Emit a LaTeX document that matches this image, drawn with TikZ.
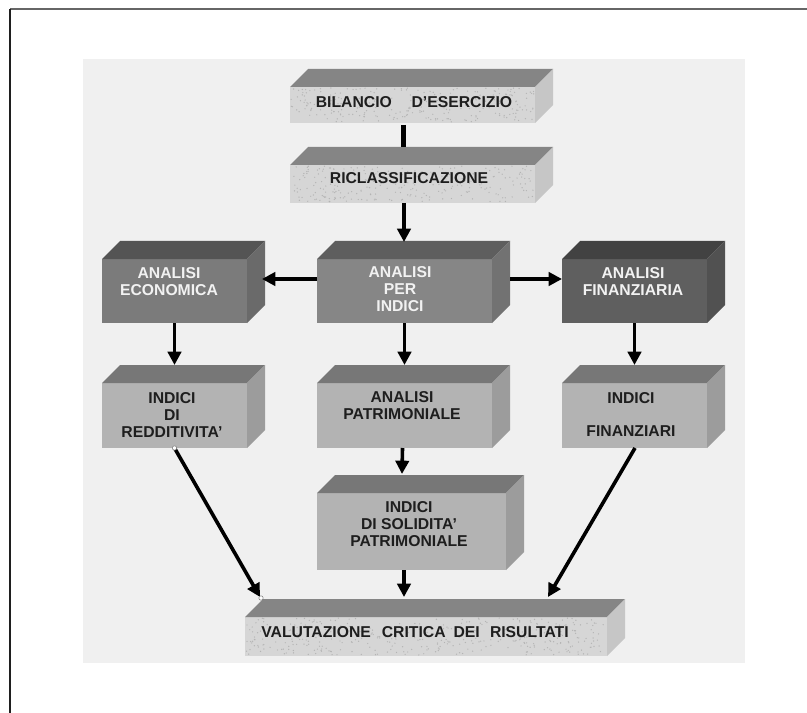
\documentclass[tikz,border=0pt]{standalone}
\usepackage{fontspec}
\setmainfont{Liberation Sans}
\usetikzlibrary{calc,arrows.meta}
\definecolor{panelc}{HTML}{F0F0F0}
\definecolor{stonefront}{HTML}{D6D6D6}
\definecolor{stonetop}{HTML}{858585}
\definecolor{stoneside}{HTML}{C6C6C6}
\definecolor{midfront}{HTML}{B3B3B3}
\definecolor{midtop}{HTML}{777777}
\definecolor{midside}{HTML}{9C9C9C}
\definecolor{ecofront}{HTML}{7B7B7B}
\definecolor{ecotop}{HTML}{545454}
\definecolor{ecoside}{HTML}{6A6A6A}
\definecolor{cenfront}{HTML}{868686}
\definecolor{centop}{HTML}{5E5E5E}
\definecolor{censide}{HTML}{727272}
\definecolor{finfront}{HTML}{5F5F5F}
\definecolor{fintop}{HTML}{424242}
\definecolor{finside}{HTML}{515151}
\definecolor{darktext}{HTML}{1E1E1E}
\definecolor{lighttext}{HTML}{F2F2F2}
\definecolor{specklec}{HTML}{B4B4B4}
\tikzset{
  face/.style={rectangle, draw=none, inner sep=0pt, outer sep=0pt, anchor=north west},
  lbl/.style={font=\bfseries\fontsize{11.8}{12.75}\selectfont, align=center, inner sep=0pt, text=darktext},
  wlbl/.style={lbl, text=lighttext},
  conn/.style={line width=2.7pt, -{Triangle[length=10pt,width=10pt]}},
  handle/.style={draw=gray, fill=white, line width=0.4pt}
}
\newcommand{\cubebox}[8]{%
  \pgfmathsetmacro{\cubeW}{(#4-#2)*0.75}%
  \pgfmathsetmacro{\cubeH}{(#5-#3)*0.75}%
  \node[face, fill=#6, minimum width=\cubeW pt, minimum height=\cubeH pt] (#1) at (#2,#3) {};
  \fill[#7] (#1.north west) -- ++(18,-18) -- ($(#1.north east)+(18,-18)$) -- (#1.north east) -- cycle;
  \fill[#8] (#1.north east) -- ++(18,-18) -- ($(#1.south east)+(18,-18)$) -- (#1.south east) -- cycle;
}
% speckle texture on a front face: x1 y1 x2 y2 count
\newcommand{\speckle}[5]{%
  \foreach \sp in {1,...,#5}{%
    \pgfmathsetmacro{\spx}{#1+rnd*(#3-#1)}%
    \pgfmathsetmacro{\spy}{#2+rnd*(#4-#2)}%
    \fill[specklec] (\spx,\spy) circle (0.7);
  }%
}
\begin{document}
\begin{tikzpicture}[x=0.75pt,y=-0.75pt]
\useasboundingbox (0,0) rectangle (807,713);
\pgfmathsetseed{4242}
% frame
\draw[color=black!60, line width=1.1pt] (10,9) -- (807,9);
\draw[color=black!88, line width=1pt] (10,9) -- (10,713);
% panel
\fill[panelc] (83,59) rectangle (745,663);
% boxes
\cubebox{bil}{290}{87}{535}{123}{stonefront}{stonetop}{stoneside}
\speckle{291}{88}{534}{122}{260}
\cubebox{ric}{290}{165}{535}{203}{stonefront}{stonetop}{stoneside}
\speckle{291}{166}{534}{202}{260}
\cubebox{eco}{102}{259}{247}{323}{ecofront}{ecotop}{ecoside}
\cubebox{cen}{317}{259}{492}{323}{cenfront}{centop}{censide}
\cubebox{fin}{562}{259}{707}{323}{finfront}{fintop}{finside}
\cubebox{red}{102}{383}{247}{448}{midfront}{midtop}{midside}
\cubebox{pat}{317}{383}{492}{448}{midfront}{midtop}{midside}
\cubebox{ifi}{562}{383}{707}{448}{midfront}{midtop}{midside}
\cubebox{sol}{317}{493}{506}{570}{midfront}{midtop}{midside}
\cubebox{val}{245}{617}{607}{656}{stonefront}{stonetop}{stoneside}
\speckle{246}{618}{606}{655}{380}
% texts
\node[lbl] (biltxt) at (414,102) {BILANCIO\hspace{1.25em}D'ESERCIZIO};
\node[lbl] (rictxt) at (409,178) {RICLASSIFICAZIONE};
\node[wlbl] (ecotxt) at (169,281.5) {ANALISI\\ECONOMICA};
\node[wlbl] (centxt) at (400,289.5) {ANALISI\\PER\\INDICI};
\node[wlbl] (fintxt) at (633,281.5) {ANALISI\\FINANZIARIA};
\node[lbl] (redtxt) at (172,415) {INDICI\\DI\\REDDITIVITA'};
\node[lbl] (pattxt) at (402,406) {ANALISI\\PATRIMONIALE};
\node[lbl] (ifitxt) at (631,414.5) {INDICI\\[12pt]FINANZIARI};
\node[lbl] (soltxt) at (409,524.5) {INDICI\\DI SOLIDITA'\\PATRIMONIALE};
\node[lbl] (valtxt) at (415,632) {VALUTAZIONE\hspace{0.7em}CRITICA\hspace{0.5em}DEI\hspace{0.65em}RISULTATI};
% connectors
\draw[line width=3.75pt] ($(bil.south)+(-9.5,2)$) -- ($(ric.north)+(-9.5,-18)$);
\draw[conn] ($(ric.south)+(-8.5,0)$) -- ($(cen.north)+(-0.5,-17)$);
\draw[conn] ($(cen.west)+(0,-12)$) -- ($(eco.east)+(15,-12)$);
\draw[conn] ($(cen.east)+(18,-12)$) -- ($(fin.west)+(0,-12)$);
\draw[conn] (eco.south) -- ($(red.north)+(0,-18)$);
\draw[conn] (cen.south) -- ($(pat.north)+(0,-18)$);
\draw[conn] (fin.south) -- ($(ifi.north)+(0,-18)$);
\draw[conn] ($(pat.south)+(-2,0)$) -- ($(sol.north)+(-9.5,-19)$);
\draw[conn] ($(sol.south)+(-7.5,0)$) -- ($(val.north)+(-22,-20)$);
\draw[conn] (red.south) -- ($(val.north west)+(15,-20)$);
\draw[conn] ($(ifi.south)+(0.5,0)$) -- ($(val.north)+(122,-20)$);
\draw[handle] (red.south) circle (2.2);
\draw[handle] ($(val.north west)+(16,-19)$) circle (2.2);
\end{tikzpicture}
\end{document}
